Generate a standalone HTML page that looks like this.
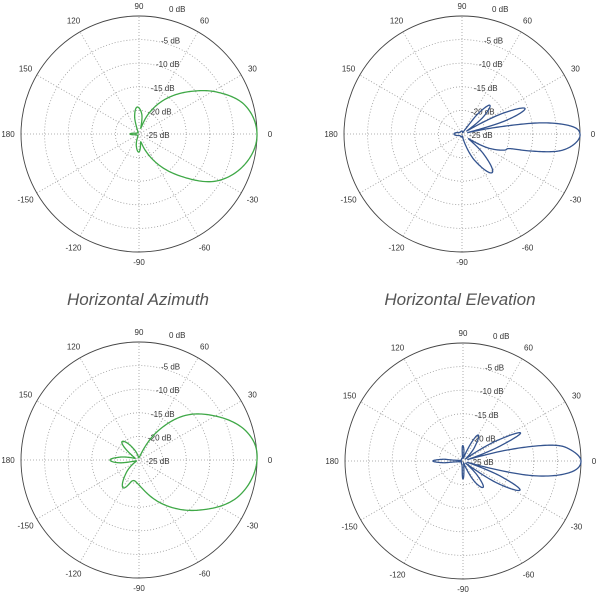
<!DOCTYPE html>
<html><head><meta charset="utf-8"><style>
html,body{margin:0;padding:0;background:#fff;}
svg{display:block;}
.t{font-family:"Liberation Sans",sans-serif;font-size:8px;fill:#333;}
.ti{font-family:"Liberation Sans",sans-serif;font-size:17px;font-style:italic;fill:#555;}
</style></head><body>
<svg id="s" width="600" height="600" viewBox="0 0 600 600" xmlns="http://www.w3.org/2000/svg">
<text class="ti" x="138" y="305" text-anchor="middle">Horizontal Azimuth</text>
<text class="ti" x="460" y="305" text-anchor="middle">Horizontal Elevation</text>
</svg>
<script>
var S=document.getElementById('s'),NS='http://www.w3.org/2000/svg';
function el(n,a,t){var e=document.createElementNS(NS,n);for(var k in a)e.setAttribute(k,a[k]);if(t!=null)e.textContent=t;S.appendChild(e);return e;}
var R=118;
function plot(cx,cy,tab,col){
 for(var k=1;k<5;k++)el('circle',{cx:cx,cy:cy,r:R*k/5,fill:'none',stroke:'#999','stroke-width':0.8,'stroke-dasharray':'1 2'});
 for(var a=0;a<180;a+=30){var t=a*Math.PI/180;el('line',{x1:cx-R*Math.cos(t),y1:cy+R*Math.sin(t),x2:cx+R*Math.cos(t),y2:cy-R*Math.sin(t),stroke:'#999','stroke-width':0.8,'stroke-dasharray':'1 2'});}
 el('circle',{cx:cx,cy:cy,r:R,fill:'none',stroke:'#444','stroke-width':0.9});
 var labs=[[0,'0'],[30,'30'],[60,'60'],[90,'90'],[120,'120'],[150,'150'],[180,'180'],[-150,'-150'],[-120,'-120'],[-90,'-90'],[-60,'-60'],[-30,'-30']];
 labs.forEach(function(l){var t=l[0]*Math.PI/180,rr=R+(l[0]==90||l[0]==-90?10:13);el('text',{class:'t',x:cx+rr*Math.cos(t),y:cy-rr*Math.sin(t)+3,'text-anchor':'middle'},l[1]);});
 var db=['0 dB','-5 dB','-10 dB','-15 dB','-20 dB','-25 dB'],dx=[26,22,17,12,9,7];
 for(var k=0;k<6;k++)el('text',{class:'t',x:cx+dx[k]+(k==0?4:0),y:cy-R*(5-k)/5+(k==0?-4:4),'text-anchor':'start'},db[k]);
 var n=tab.length-1;
 var P=tab.slice(0,n);
 function g(i){var m=((i%n)+n)%n,off=Math.floor(i/n)*360;return [P[m][0]+off,P[m][1]];}
 var d='';
 for(var i=0;i<n;i++){
  var p0=g(i-1),p1=g(i),p2=g(i+1),p3=g(i+2);
  for(var s=0;s<1;s+=0.05){
   var s2=s*s,s3=s2*s;
   function cr(a,b,c,e){return 0.5*(2*b+(-a+c)*s+(2*a-5*b+4*c-e)*s2+(-a+3*b-3*c+e)*s3);}
   var an=cr(p0[0],p1[0],p2[0],p3[0]),r=Math.max(0,cr(p0[1],p1[1],p2[1],p3[1]));
   var t=an*Math.PI/180;
   d+=(d?'L':'M')+(cx+r*Math.cos(t)).toFixed(2)+' '+(cy-r*Math.sin(t)).toFixed(2);
  }
 }
 el('path',{d:d+'Z',fill:'none',stroke:col,'stroke-width':1.3,'stroke-linejoin':'round'});
}
var G='#3fa847',B='#34548f';
plot(139,134,[[-180,9],[-165,3],[-130,2],[-115,3],[-103,12],[-90,18],[-78,8],[-70,16],[-60,32],[-45,60],[-31,91],[-15,111],[0,118],[15,110],[28,89],[40,66],[55,40],[66,20],[73,6],[82,20],[94,27],[104,18],[114,3],[140,2],[165,3],[180,9]],G);
plot(462,134,[[-180,8],[-150,3],[-100,3],[-78,4],[-64,30],[-52,49],[-43,30],[-36,8],[-28,30],[-21,45],[-17,50],[-14,70],[-10,98],[-5,113],[0,118],[4,110],[8,80],[11,35],[14,6],[17,45],[22,68],[27,45],[32,6],[39,28],[46,40],[52,25],[58,3],[90,3],[150,3],[180,8]],B);
plot(139,460,[[-180,29],[-172,20],[-165,4],[-150,5],[-135,18],[-120,32],[-108,22],[-95,23],[-79,32],[-60,52],[-40,78],[-20,106],[0,118],[15,111],[33,83],[45,62],[58,32],[70,8],[85,3],[100,3],[115,12],[133,25],[147,8],[160,5],[172,20],[180,29]],G);
plot(463,461,[[-180,30],[-175,20],[-168,3],[-120,3],[-98,6],[-90,18],[-82,6],[-70,3],[-60,25],[-52,33],[-45,20],[-38,4],[-33,40],[-27,64],[-22,40],[-17,5],[-12,70],[-6,108],[0,118],[6,108],[10,91],[14,45],[17,5],[22,40],[26,64],[31,40],[38,4],[50,18],[60,30],[70,10],[80,3],[86,12],[92,15],[98,4],[110,3],[168,3],[175,20],[180,30]],B);
</script>
</body></html>
